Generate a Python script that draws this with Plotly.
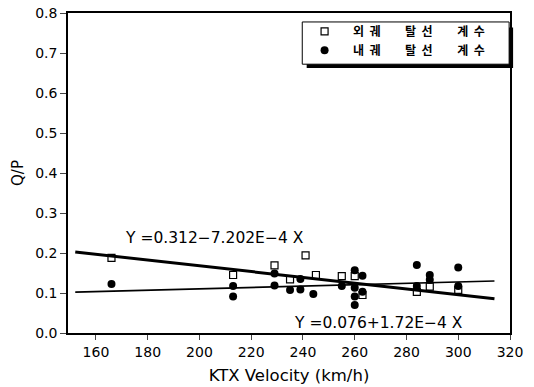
import plotly.graph_objects as go

# Data
outer_speed = [166, 213, 229, 235, 241, 245, 255, 260, 263, 284, 289, 300]
outer_qp = [0.188, 0.145, 0.169, 0.134, 0.194, 0.145, 0.142, 0.142, 0.095, 0.103, 0.116, 0.108]

inner_speed = [166, 213, 213, 229, 229, 235, 239, 239, 244, 255, 260, 260, 260, 260,
               263, 263, 284, 284, 289, 289, 300, 300]
inner_qp = [0.1225, 0.1175, 0.091, 0.149, 0.119, 0.1075, 0.135, 0.109, 0.0975, 0.1175,
            0.157, 0.113, 0.091, 0.070, 0.143, 0.103, 0.170, 0.1175, 0.145, 0.133, 0.164, 0.1175]

# Regression fits (intercept, slope) shown on the chart
outer_fit = [0.312, -7.202e-4]
inner_fit = [0.076, 1.72e-4]
fit_x = [152, 314]

x_ticks = [160, 180, 200, 220, 240, 260, 280, 300, 320]
y_ticks = [0.0, 0.1, 0.2, 0.3, 0.4, 0.5, 0.6, 0.7, 0.8]

NB = "\u00a0"
legend_names = ["외" + NB * 2 + "궤" + NB * 9 + "탈" + NB * 2 + "선" + NB * 9 + "계" + NB * 2 + "수",
                "내" + NB * 2 + "궤" + NB * 9 + "탈" + NB * 2 + "선" + NB * 9 + "계" + NB * 2 + "수"]

font = "DejaVu Sans, sans-serif"
kfont = "Noto Sans CJK KR"

fig = go.Figure()

fig.add_trace(go.Scatter(
    x=fit_x, y=[outer_fit[0] + outer_fit[1] * v for v in fit_x],
    mode="lines", line=dict(color="black", width=3), showlegend=False, hoverinfo="skip"))
fig.add_trace(go.Scatter(
    x=fit_x, y=[inner_fit[0] + inner_fit[1] * v for v in fit_x],
    mode="lines", line=dict(color="black", width=1.6), showlegend=False, hoverinfo="skip"))

fig.add_trace(go.Scatter(
    x=outer_speed, y=outer_qp, mode="markers", name=legend_names[0],
    marker=dict(symbol="square-open", size=7, color="black", line=dict(width=1.2))))
fig.add_trace(go.Scatter(
    x=inner_speed, y=inner_qp, mode="markers", name=legend_names[1],
    marker=dict(symbol="circle", size=8, color="black")))

# legend box with drop shadow
fig.add_shape(type="rect", xref="paper", yref="paper",
              x0=0.540, x1=1.007, y0=0.828, y1=0.955,
              fillcolor="black", line=dict(width=0), layer="above")
fig.add_shape(type="rect", xref="paper", yref="paper",
              x0=0.530, x1=0.998, y0=0.840, y1=0.972,
              fillcolor="white", line=dict(color="black", width=1), layer="above")

fig.add_annotation(x=170.5, y=0.2375, xref="x", yref="y", text="Y =0.312−7.202E−4 X",
                   showarrow=False, xanchor="left", font=dict(family=font, size=15.5, color="black"))
fig.add_annotation(x=302.5, y=0.026, xref="x", yref="y", text="Y =0.076+1.72E−4 X",
                   showarrow=False, xanchor="right", font=dict(family=font, size=15.5, color="black"))

fig.update_layout(
    width=534, height=387,
    margin=dict(l=68, r=24, t=13, b=54),
    paper_bgcolor="white", plot_bgcolor="white",
    font=dict(family=font, size=14, color="black"),
    showlegend=True,
    legend=dict(x=0.516, y=0.988, xanchor="left", yanchor="top",
                bgcolor="rgba(0,0,0,0)", borderwidth=0,
                font=dict(family=kfont, size=12, color="black", weight="bold"),
                itemwidth=47, tracegroupgap=0),
)

fig.update_xaxes(range=[149.2, 320], tickvals=x_ticks, ticks="outside", ticklen=5,
                 showline=True, linecolor="black", linewidth=1.5, mirror=True,
                 showgrid=False, zeroline=False, automargin=False,
                 title=dict(text="KTX Velocity (km/h)", font=dict(size=16.5), standoff=11),
                 tickfont=dict(size=14))
fig.update_yaxes(range=[0, 0.8], tickvals=y_ticks, tickformat=".1f", ticks="outside", ticklen=6,
                 showline=True, linecolor="black", linewidth=1.5, mirror=True,
                 showgrid=False, zeroline=False, automargin=False,
                 title=dict(text="Q/P", font=dict(size=15), standoff=8),
                 tickfont=dict(size=14))

fig.write_html("out.html")
